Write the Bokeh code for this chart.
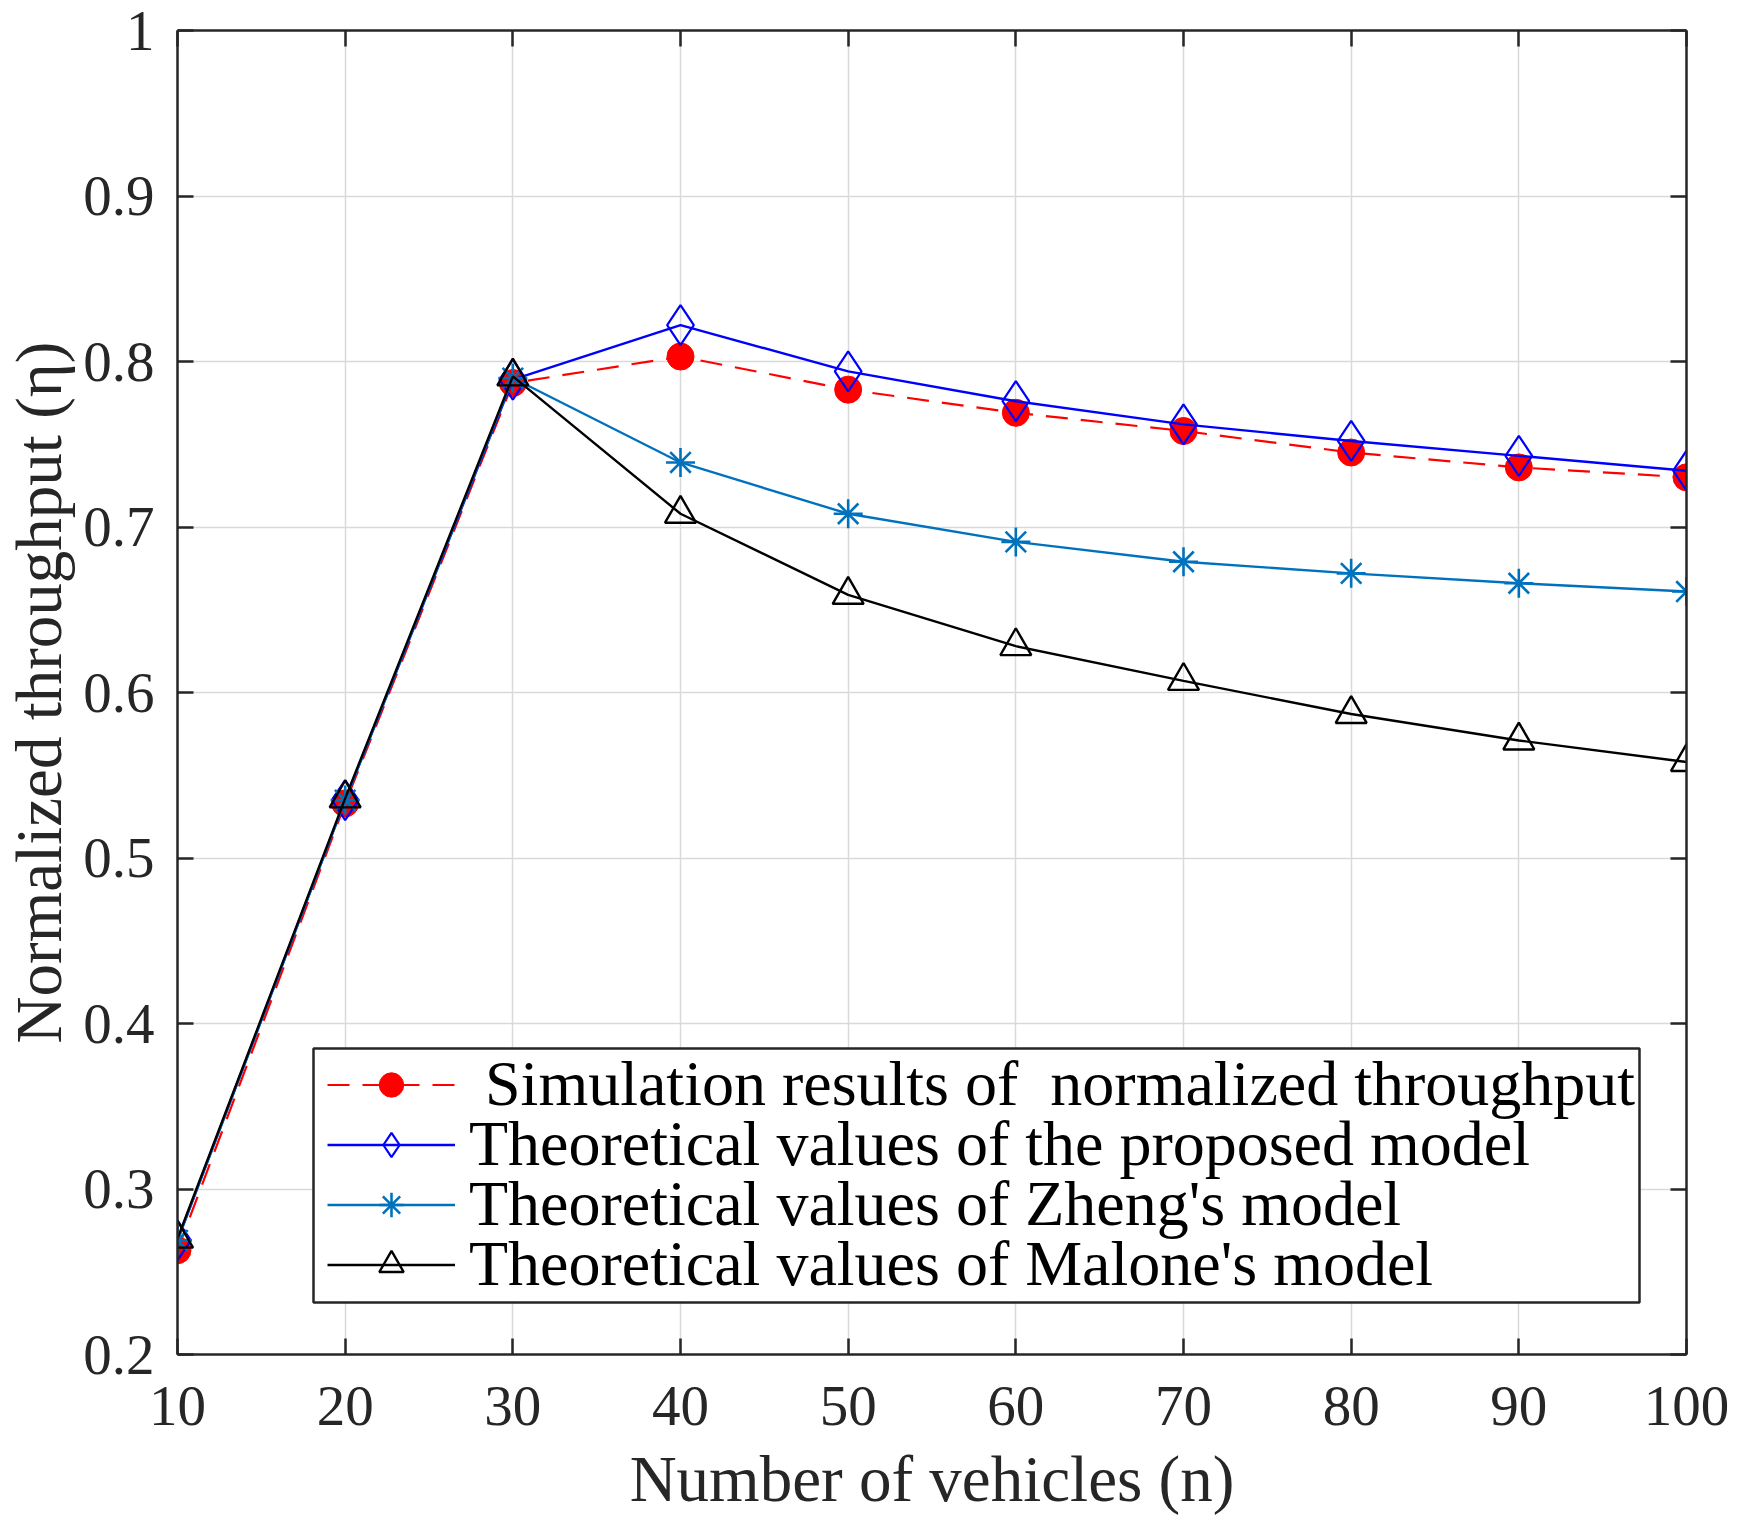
from bokeh.plotting import figure
from bokeh.models import (ColumnDataSource, LinearAxis, FixedTicker, Legend, LegendItem,
                          BoxAnnotation)
from bokeh.embed import file_html
from bokeh.resources import INLINE

# ---- data ----
vehicles = [10, 20, 30, 40, 50, 60, 70, 80, 90, 100]
sim_throughput = [0.263, 0.533, 0.787, 0.803, 0.783, 0.769, 0.758, 0.745, 0.736, 0.730]
proposed_model = [0.269, 0.535, 0.789, 0.822, 0.794, 0.776, 0.762, 0.752, 0.743, 0.734]
zheng_model = [0.269, 0.535, 0.790, 0.739, 0.708, 0.691, 0.679, 0.672, 0.666, 0.661]
malone_model = [0.270, 0.536, 0.791, 0.708, 0.659, 0.628, 0.607, 0.587, 0.571, 0.558]

x_ticks = [10, 20, 30, 40, 50, 60, 70, 80, 90, 100]
y_ticks = [0.2, 0.3, 0.4, 0.5, 0.6, 0.7, 0.8, 0.9, 1.0]

labels = [" Simulation results of  normalized throughput",
          "Theoretical values of the proposed model",
          "Theoretical values of Zheng's model",
          "Theoretical values of Malone's model"]

FONT = "Liberation Serif"
TXT = "#262626"

src = ColumnDataSource(dict(n=vehicles, sim=sim_throughput, prop=proposed_model,
                            zheng=zheng_model, malone=malone_model))

p = figure(width=1739, height=1528, output_backend="svg", toolbar_location=None,
           x_range=(10, 100), y_range=(0.2, 1.0),
           min_border_left=177, min_border_right=53, min_border_top=30, min_border_bottom=174,
           x_axis_label="Number of vehicles (n)", y_axis_label="Normalized throughput (η)")
p.outline_line_color = None
p.background_fill_color = "white"
p.border_fill_color = "white"

p.xaxis.ticker = FixedTicker(ticks=x_ticks)
p.yaxis.ticker = FixedTicker(ticks=y_ticks)
p.yaxis.major_label_overrides = {1: "1"}

p.xgrid.ticker = FixedTicker(ticks=x_ticks)
p.ygrid.ticker = FixedTicker(ticks=y_ticks)
p.grid.grid_line_color = "#d9d9d9"
p.grid.grid_line_width = 1.5

for ax in [p.xaxis[0], p.yaxis[0]]:
    ax.axis_line_color = TXT
    ax.axis_line_width = 2.5
    ax.major_tick_line_color = TXT
    ax.major_tick_line_width = 2.5
    ax.major_tick_in = 16
    ax.major_tick_out = 0
    ax.minor_tick_line_color = None
    ax.major_label_text_font = FONT
    ax.major_label_text_font_size = "57px"
    ax.major_label_text_color = TXT
    ax.axis_label_text_font = FONT
    ax.axis_label_text_font_size = "65px"
    ax.axis_label_text_font_style = "normal"
    ax.axis_label_text_color = TXT

p.xaxis.major_label_standoff = 32
p.xaxis.axis_label_standoff = 15
p.yaxis.major_label_standoff = 23
p.yaxis.axis_label_standoff = 5

for loc, tk in (("above", x_ticks), ("right", y_ticks)):
    ax = LinearAxis(ticker=FixedTicker(ticks=tk))
    ax.axis_line_color = TXT
    ax.axis_line_width = 2.5
    ax.major_tick_line_color = TXT
    ax.major_tick_line_width = 2.5
    ax.major_tick_in = 16
    ax.major_tick_out = 0
    ax.minor_tick_line_color = None
    ax.major_label_text_color = None
    ax.major_label_standoff = 0
    p.add_layout(ax, loc)

# ---- series ----
r_sim_l = p.line("n", "sim", source=src, line_color="#ff0000", line_width=2.2, line_dash="22 13")
r_sim_m = p.scatter("n", "sim", source=src, marker="circle", size=27,
                    fill_color="#ff0000", line_color="#ff0000")

r_prop_l = p.line("n", "prop", source=src, line_color="#0000ff", line_width=2.4)
r_prop_m = p.scatter("n", "prop", source=src, marker="diamond", size=40,
                     fill_color=None, line_color="#0000ff", line_width=2.2)

r_zh_l = p.line("n", "zheng", source=src, line_color="#0072bd", line_width=2.4)
r_zh_m = p.scatter("n", "zheng", source=src, marker="asterisk", size=29,
                   line_color="#0072bd", line_width=2.6)

r_ma_l = p.line("n", "malone", source=src, line_color="#000000", line_width=2.4)
r_ma_m = p.scatter("n", "malone", source=src, marker="triangle", size=31,
                   fill_color=None, line_color="#000000", line_width=2.4)

# ---- legend: a framed box holding one row per series ----
box = BoxAnnotation(left=136, right=1462, bottom=52, top=306,
                    left_units="screen", right_units="screen",
                    top_units="screen", bottom_units="screen",
                    fill_color="white", fill_alpha=1.0,
                    line_color=TXT, line_width=2.5, line_alpha=1.0)
p.add_layout(box)

row_renderers = [[r_sim_l, r_sim_m], [r_prop_l, r_prop_m],
                 [r_zh_l, r_zh_m], [r_ma_l, r_ma_m]]
row_centers = [269, 209, 149, 89]   # px above the frame bottom
for lab, rends, yc in zip(labels, row_renderers, row_centers):
    lg = Legend(items=[LegendItem(label=lab, renderers=rends)],
                location=(150, int(yc - 36)))
    lg.label_text_font = FONT
    lg.label_text_font_size = "64px"
    lg.label_text_color = "#000000"
    lg.label_height = 61
    lg.glyph_height = 61
    lg.glyph_width = 128
    lg.label_standoff = 14
    lg.spacing = 0
    lg.padding = 0
    lg.margin = 0
    lg.border_line_color = None
    lg.background_fill_alpha = 0.0
    p.add_layout(lg, "center")

open("out.html", "w").write(file_html(p, INLINE))
